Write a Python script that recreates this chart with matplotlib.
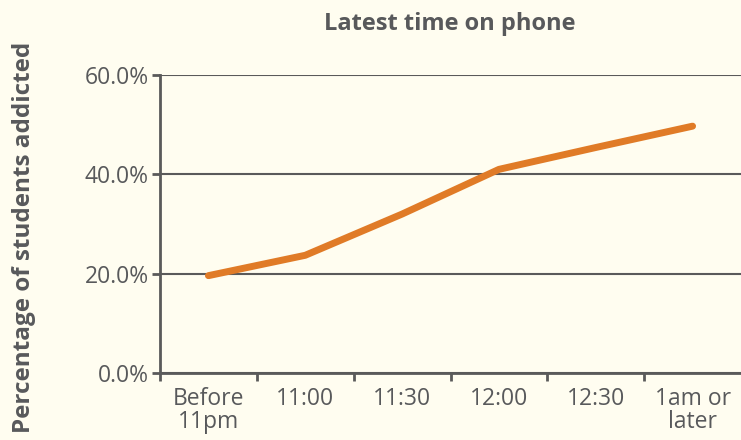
import matplotlib
matplotlib.use("Agg")
import matplotlib.pyplot as plt
from matplotlib.ticker import FuncFormatter

categories = ["Before\n11pm", "11:00", "11:30", "12:00", "12:30", "1am or\nlater"]
values = [19.6, 23.7, 32.0, 41.0, 45.4, 49.7]
yticks = [0, 20, 40, 60]

bg = "#fffdf0"
txt = "#58595b"
axc = "#5a5a5a"
line_c = "#e07b27"

plt.rcParams['font.family'] = ['Open Sans', 'DejaVu Sans']

fig = plt.figure(figsize=(7.41, 4.40), dpi=100, facecolor=bg)
ax = fig.add_axes([160/741, 1-373/440, 581/741, (373-75)/440])
ax.set_facecolor(bg)

x = list(range(len(categories)))
ax.plot(x, values, color=line_c, linewidth=5, solid_capstyle='round', solid_joinstyle='round', zorder=3)

ax.set_xlim(-0.5, len(categories)-0.5)
ax.set_ylim(0, 60)
ax.set_yticks(yticks)
ax.yaxis.set_major_formatter(FuncFormatter(lambda v, p: f"{v:.1f}%"))
ax.set_xticks([i - 0.5 for i in range(len(categories))])
ax.set_xticklabels([])
ax.set_xticks(x, minor=True)
ax.set_xticklabels(categories, minor=True, fontsize=16.5, color=txt, linespacing=0.95)
ax.tick_params(axis='x', which='minor', length=0, pad=10)
ax.tick_params(axis='x', which='major', length=6, width=2, color=axc, direction='out')
ax.tick_params(axis='y', length=6, width=2, color=axc, labelsize=16.5, labelcolor=txt, pad=2)

ax.grid(axis='y', color=axc, linewidth=1.5, zorder=1)
for s in ['top', 'right']:
    ax.spines[s].set_visible(False)
for s in ['left', 'bottom']:
    ax.spines[s].set_color(axc)
    ax.spines[s].set_linewidth(2)

fig.text(450/741, 1-30/440, "Latest time on phone", fontsize=17, fontweight='bold',
         color=txt, ha='center', va='baseline')
fig.text(24/741, 1-237/440, "Percentage of students addicted", rotation=90, fontsize=17.5,
         fontweight='bold', color=txt, ha='center', va='center')

fig.savefig("out.png", dpi=100, facecolor=bg)
